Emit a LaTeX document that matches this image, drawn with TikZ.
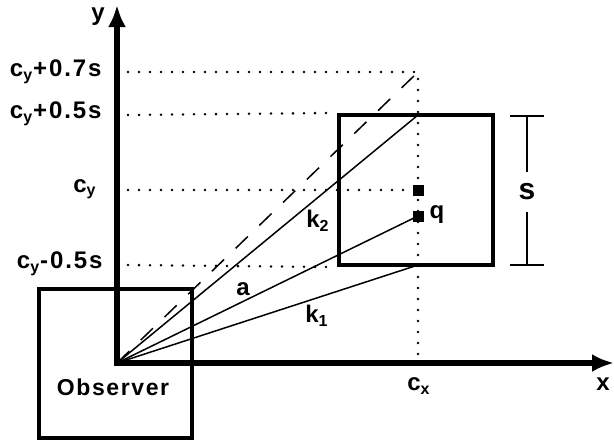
\documentclass[tikz,border=0pt]{standalone}
\usepackage{fontspec}
\setmainfont{Liberation Sans}
\newfontfamily\lblfont[LetterSpace=8]{Liberation Sans}
\newfontfamily\obsfont[LetterSpace=7]{Liberation Sans}
\usetikzlibrary{
    arrows.meta,
    positioning
}

\begin{document}
\begin{tikzpicture}[
    x=0.5pt,
    y=-0.5pt,
    axis/.style={
        line width=3pt,
        line join=miter,
        {Latex[length=11pt,width=9pt]}-{Latex[length=11pt,width=9pt]}
    },
    frame/.style={
        draw,
        line width=2.1pt,
        inner sep=0pt
    },
    ray/.style={
        line width=0.75pt
    },
    dashray/.style={
        line width=0.75pt,
        dash pattern=on 8.5pt off 8pt
    },
    guide/.style={
        line width=1.4pt,
        line cap=round,
        dash pattern=on 0pt off 5.5pt
    },
    lbl/.style={
        font=\lblfont\bfseries\fontsize{12}{14}\selectfont,
        inner sep=1pt
    },
    spot/.style={
        fill,
        inner sep=0pt,
        minimum size=5.5pt
    }
]
\useasboundingbox (0,0) rectangle (614,441);

\coordinate (O) at (117,363);
\coordinate (ytip) at (117,5);
\coordinate (xtip) at (614,363);
\coordinate (top) at (418,72);
\coordinate (k2end) at (418,115);
\coordinate (k1end) at (418,265);
\coordinate (cxfoot) at (418,355);

\node[frame, minimum width=76.5pt, minimum height=74.5pt] (observer)
    at (115.5,363.5) {};
\node[frame, minimum width=77pt, minimum height=75pt] (object)
    at (416,190) {};

\node[spot] (center) at (418,190) {};
\node[spot] (q) at (418,216) {};

\node[lbl, anchor=east] (l07) at (104,72) {c\textsubscript{y}+0.7s};
\node[lbl, anchor=east] (l05) at (104,114) {c\textsubscript{y}+0.5s};
\node[lbl, anchor=east] (lcy) at (99,189) {c\textsubscript{y}};
\node[lbl, anchor=east] (lm05) at (105,264) {c\textsubscript{y}-0.5s};

\coordinate (g07) at (128,72);
\coordinate (g05) at (128,115);
\coordinate (gcy) at (128,190);
\coordinate (gm05) at (128,265);

\draw[guide] (g07) -- (top) -- (cxfoot);
\draw[guide] (g05) -- (object.north west);
\draw[guide] (gcy) -- (center);
\draw[guide] (gm05) -- (object.south west);

\draw[dashray] (O) -- (top);
\draw[ray] (O) -- (k2end);
\draw[ray] (O) -- (q.center);
\draw[ray] (O) -- (k1end);

\draw[axis] (ytip) -- (O) -- (xtip);

\node[lbl] (ylbl) at (98,17) {y};
\node[lbl] (xlbl) at (603,384) {x};
\node[lbl] (cxlbl) at (419,386) {c\textsubscript{x}};
\node[lbl, font=\obsfont\bfseries\fontsize{11.5}{14}\selectfont] (obslbl)
    at (113,387) {Observer};
\node[lbl] (k2lbl) at (318,221) {k\textsubscript{2}};
\node[lbl] (k1lbl) at (317,316) {k\textsubscript{1}};
\node[lbl] (albl) at (243,289) {a};
\node[lbl] (qlbl) at (437,215) {q};

\coordinate (stop) at (527,116);
\coordinate (sbot) at (527,265);
\node[lbl, font=\lblfont\bfseries\fontsize{15}{17}\selectfont,
    minimum height=20pt] (slbl) at (527,192) {s};
\draw[ray] (stop) -- (slbl);
\draw[ray] (slbl) -- (sbot);
\draw[ray] ([xshift=-8.5pt]stop) -- ([xshift=8.5pt]stop);
\draw[ray] ([xshift=-8.5pt]sbot) -- ([xshift=8.5pt]sbot);

\end{tikzpicture}
\end{document}
